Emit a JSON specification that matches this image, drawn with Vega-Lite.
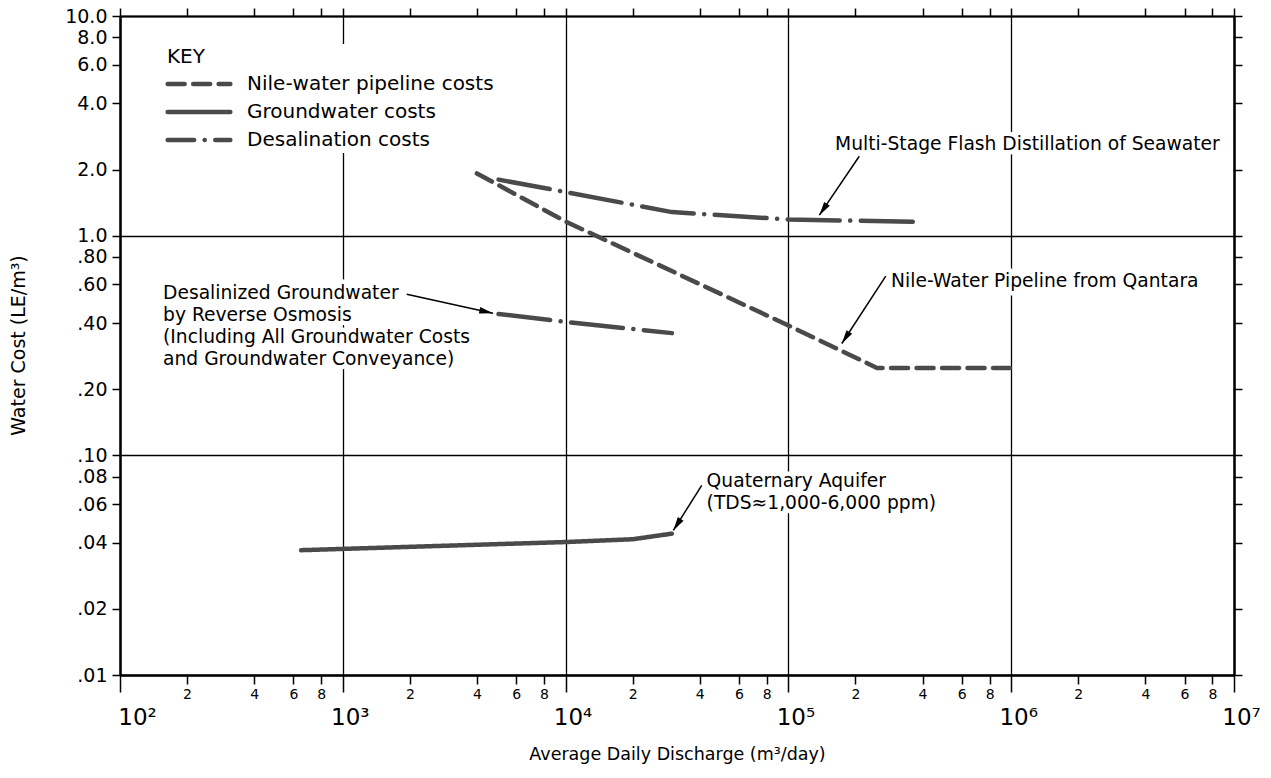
{
  "$schema": "https://vega.github.io/schema/vega-lite/v6.json",
  "width": 1114,
  "height": 659,
  "autosize": "none",
  "padding": {"left": 120, "top": 16, "right": 37, "bottom": 103},
  "background": "white",
  "config": {
    "view": {"stroke": null},
    "font": "DejaVu Sans",
    "axis": {
      "labelColor": "black",
      "titleColor": "black",
      "domainColor": "black",
      "tickColor": "black",
      "labelFont": "DejaVu Sans",
      "titleFont": "DejaVu Sans",
      "titleFontWeight": "normal",
      "labelOverlap": false,
      "labelFlush": false
    },
    "legend": {"labelFont": "DejaVu Sans", "titleFont": "DejaVu Sans"}
  },
  "datasets": {
    "curves": [
      {"series": "Nile-water pipeline costs", "curve": "Nile pipeline from Qantara", "x": 4000, "y": 1.92},
      {"series": "Nile-water pipeline costs", "curve": "Nile pipeline from Qantara", "x": 10000, "y": 1.16},
      {"series": "Nile-water pipeline costs", "curve": "Nile pipeline from Qantara", "x": 100000, "y": 0.39},
      {"series": "Nile-water pipeline costs", "curve": "Nile pipeline from Qantara", "x": 250000, "y": 0.25},
      {"series": "Nile-water pipeline costs", "curve": "Nile pipeline from Qantara", "x": 1000000, "y": 0.25},
      {"series": "Desalination costs", "curve": "Multi-stage flash", "x": 5000, "y": 1.8},
      {"series": "Desalination costs", "curve": "Multi-stage flash", "x": 10000, "y": 1.58},
      {"series": "Desalination costs", "curve": "Multi-stage flash", "x": 30000, "y": 1.28},
      {"series": "Desalination costs", "curve": "Multi-stage flash", "x": 100000, "y": 1.185},
      {"series": "Desalination costs", "curve": "Multi-stage flash", "x": 400000, "y": 1.155},
      {"series": "Desalination costs", "curve": "Reverse osmosis", "x": 5000, "y": 0.44},
      {"series": "Desalination costs", "curve": "Reverse osmosis", "x": 10000, "y": 0.405},
      {"series": "Desalination costs", "curve": "Reverse osmosis", "x": 30000, "y": 0.36},
      {"series": "Groundwater costs", "curve": "Quaternary aquifer", "x": 650, "y": 0.037},
      {"series": "Groundwater costs", "curve": "Quaternary aquifer", "x": 1000, "y": 0.0375},
      {"series": "Groundwater costs", "curve": "Quaternary aquifer", "x": 10000, "y": 0.0403},
      {"series": "Groundwater costs", "curve": "Quaternary aquifer", "x": 20000, "y": 0.0415},
      {"series": "Groundwater costs", "curve": "Quaternary aquifer", "x": 30000, "y": 0.044}
    ],
    "arrows": [
      {"note": "msf", "x": 208000, "y": 2.3, "x2": 137700, "y2": 1.24},
      {"note": "nile", "x": 273500, "y": 0.654, "x2": 173700, "y2": 0.323},
      {"note": "ro", "x": 1936, "y": 0.5415, "x2": 4720, "y2": 0.4436},
      {"note": "quat", "x": 40830, "y": 0.073, "x2": 30450, "y2": 0.0455}
    ],
    "notes": [
      {"x": 162000, "y": 2.87, "label": "Multi-Stage Flash Distillation of Seawater"},
      {"x": 289000, "y": 0.682, "label": "Nile-Water Pipeline from Qantara"},
      {"x": 156, "y": 0.601, "label": "Desalinized Groundwater\nby Reverse Osmosis\n(Including All Groundwater Costs\nand Groundwater Conveyance)"},
      {"x": 42950, "y": 0.0837, "label": "Quaternary Aquifer\n(TDS≈1,000-6,000 ppm)"}
    ]
  },
  "encoding": {
    "x": {"field": "x", "type": "quantitative", "scale": {"type": "log", "domain": [100, 10000000], "nice": false}, "axis": null},
    "y": {"field": "y", "type": "quantitative", "scale": {"type": "log", "domain": [0.01, 10], "nice": false}, "axis": null}
  },
  "resolve": {"axis": {"x": "independent", "y": "independent"}},
  "layer": [
    {
      "data": {"name": "notes"},
      "mark": {"type": "text", "align": "left", "baseline": "top", "fontSize": 18.7, "lineHeight": 22, "lineBreak": "\n", "color": "white", "stroke": "white", "strokeWidth": 9, "strokeJoin": "round"},
      "encoding": {"text": {"field": "label"}}
    },
    {
      "data": {"name": "curves"},
      "mark": {"type": "line", "strokeWidth": 4.5, "strokeCap": "round", "color": "#4a4a4a"},
      "encoding": {
        "x": {
          "field": "x", "type": "quantitative",
          "scale": {"type": "log", "domain": [100, 10000000], "nice": false},
          "axis": {
            "orient": "bottom",
            "values": [100, 200, 400, 600, 800, 1000, 2000, 4000, 6000, 8000, 10000, 20000, 40000, 60000, 80000, 100000, 200000, 400000, 600000, 800000, 1000000, 2000000, 4000000, 6000000, 8000000, 10000000],
            "labelExpr": "abs(log(datum.value)/LN10 - round(log(datum.value)/LN10)) < 0.001 ? '10' + ['²','³','⁴','⁵','⁶','⁷'][round(log(datum.value)/LN10) - 2] : toString(round(datum.value / pow(10, floor(log(datum.value)/LN10 + 0.000001))))",
            "grid": true,
            "gridColor": "black",
            "gridWidth": 1.3,
            "gridOpacity": {"condition": {"test": "abs(log(datum.value)/LN10 - round(log(datum.value)/LN10)) < 0.001", "value": 1}, "value": 0},
            "domainWidth": 2.5,
            "tickWidth": 1.5,
            "tickSize": {"condition": {"test": "abs(log(datum.value)/LN10 - round(log(datum.value)/LN10)) < 0.001", "value": 17}, "value": 9},
            "labelFontSize": {"condition": {"test": "abs(log(datum.value)/LN10 - round(log(datum.value)/LN10)) < 0.001", "value": 23}, "value": 14},
            "labelPadding": {"condition": {"test": "abs(log(datum.value)/LN10 - round(log(datum.value)/LN10)) < 0.001", "value": 14}, "value": 3},
            "labelOffset": {"condition": [{"test": "datum.value < 150", "value": 17}, {"test": "abs(log(datum.value)/LN10 - round(log(datum.value)/LN10)) < 0.001", "value": 7}], "value": 0},
            "title": "Average Daily Discharge (m³/day)",
            "titleFontSize": 17.5,
            "titleY": 84,
            "titleBaseline": "alphabetic"
          }
        },
        "y": {
          "field": "y", "type": "quantitative",
          "scale": {"type": "log", "domain": [0.01, 10], "nice": false},
          "axis": {
            "orient": "left",
            "values": [0.01, 0.02, 0.04, 0.06, 0.08, 0.1, 0.2, 0.4, 0.6, 0.8, 1, 2, 4, 6, 8, 10],
            "labelExpr": "datum.value >= 0.999 ? format(datum.value, '.1f') : replace(format(datum.value, '.2f'), '0.', '.')",
            "grid": true,
            "gridColor": "black",
            "gridWidth": 1.3,
            "gridOpacity": {"condition": {"test": "abs(log(datum.value)/LN10 - round(log(datum.value)/LN10)) < 0.001", "value": 1}, "value": 0},
            "domainWidth": 2.5,
            "tickWidth": 1.5,
            "tickSize": 8,
            "labelPadding": 5,
            "labelFontSize": 19,
            "title": "Water Cost (LE/m³)",
            "titleFontSize": 19,
            "titleX": -102,
            "titleY": 329,
            "titleAngle": 270,
            "titleAlign": "center",
            "titleBaseline": "middle"
          }
        },
        "detail": {"field": "curve"},
        "strokeDash": {
          "field": "series", "type": "nominal",
          "scale": {"domain": ["Nile-water pipeline costs", "Groundwater costs", "Desalination costs"], "range": [[17, 8.5], [1, 0], [52, 10.5, 0.1, 10.5]]},
          "legend": {
            "orient": "none",
            "legendX": 44,
            "legendY": 28,
            "title": "KEY",
            "titleFontSize": 20,
            "titleFontWeight": "normal",
            "titleColor": "black",
            "titlePadding": 5,
            "labelFontSize": 20,
            "labelColor": "black",
            "labelLimit": 0,
            "labelOffset": 36,
            "rowPadding": 6,
            "symbolType": "M-3.3,0H3.3",
            "symbolSize": 361,
            "symbolStrokeWidth": 4.5,
            "symbolStrokeColor": "#4a4a4a",
            "symbolDashOffset": 25.5,
            "symbolOffset": 20,
            "fillColor": "white",
            "padding": 3,
            "encode": {
              "symbols": {
                "update": {
                  "strokeCap": {"value": "round"}
                }
              }
            }
          }
        }
      }
    },
    {
      "data": {"name": "arrows"},
      "mark": {"type": "rule", "color": "black", "strokeWidth": 1.5},
      "encoding": {
        "x": {
          "field": "x", "type": "quantitative",
          "scale": {"type": "log", "domain": [100, 10000000], "nice": false},
          "axis": {
            "orient": "top",
            "values": [100, 200, 400, 600, 800, 1000, 2000, 4000, 6000, 8000, 10000, 20000, 40000, 60000, 80000, 100000, 200000, 400000, 600000, 800000, 1000000, 2000000, 4000000, 6000000, 8000000, 10000000],
            "labels": false,
            "grid": false,
            "tickSize": 8,
            "tickWidth": 1.5,
            "domainWidth": 2,
            "title": null
          }
        },
        "y": {
          "field": "y", "type": "quantitative",
          "scale": {"type": "log", "domain": [0.01, 10], "nice": false},
          "axis": {
            "orient": "right",
            "values": [0.01, 0.02, 0.04, 0.06, 0.08, 0.1, 0.2, 0.4, 0.6, 0.8, 1, 2, 4, 6, 8, 10],
            "labels": false,
            "grid": false,
            "tickSize": 8,
            "tickWidth": 1.5,
            "domainWidth": 2.5,
            "title": null
          }
        },
        "x2": {"field": "x2"},
        "y2": {"field": "y2"}
      }
    },
    {
      "data": {"name": "arrows"},
      "mark": {"type": "point", "shape": "M0,0L0.42,1.7L-0.42,1.7Z", "filled": true, "color": "black", "size": 260, "opacity": 1},
      "encoding": {
        "x": {"field": "x2", "type": "quantitative", "scale": {"type": "log", "domain": [100, 10000000], "nice": false}, "axis": null},
        "y": {"field": "y2", "type": "quantitative", "scale": {"type": "log", "domain": [0.01, 10], "nice": false}, "axis": null},
        "angle": {"field": "note", "type": "nominal", "scale": {"type": "ordinal", "domain": ["msf", "nile", "ro", "quat"], "range": [213.9, 213.2, 102.4, 212.3]}, "legend": null}
      }
    },
    {
      "data": {"name": "notes"},
      "mark": {"type": "text", "align": "left", "baseline": "top", "fontSize": 18.7, "lineHeight": 22, "lineBreak": "\n", "color": "black"},
      "encoding": {"text": {"field": "label"}}
    }
  ]
}
